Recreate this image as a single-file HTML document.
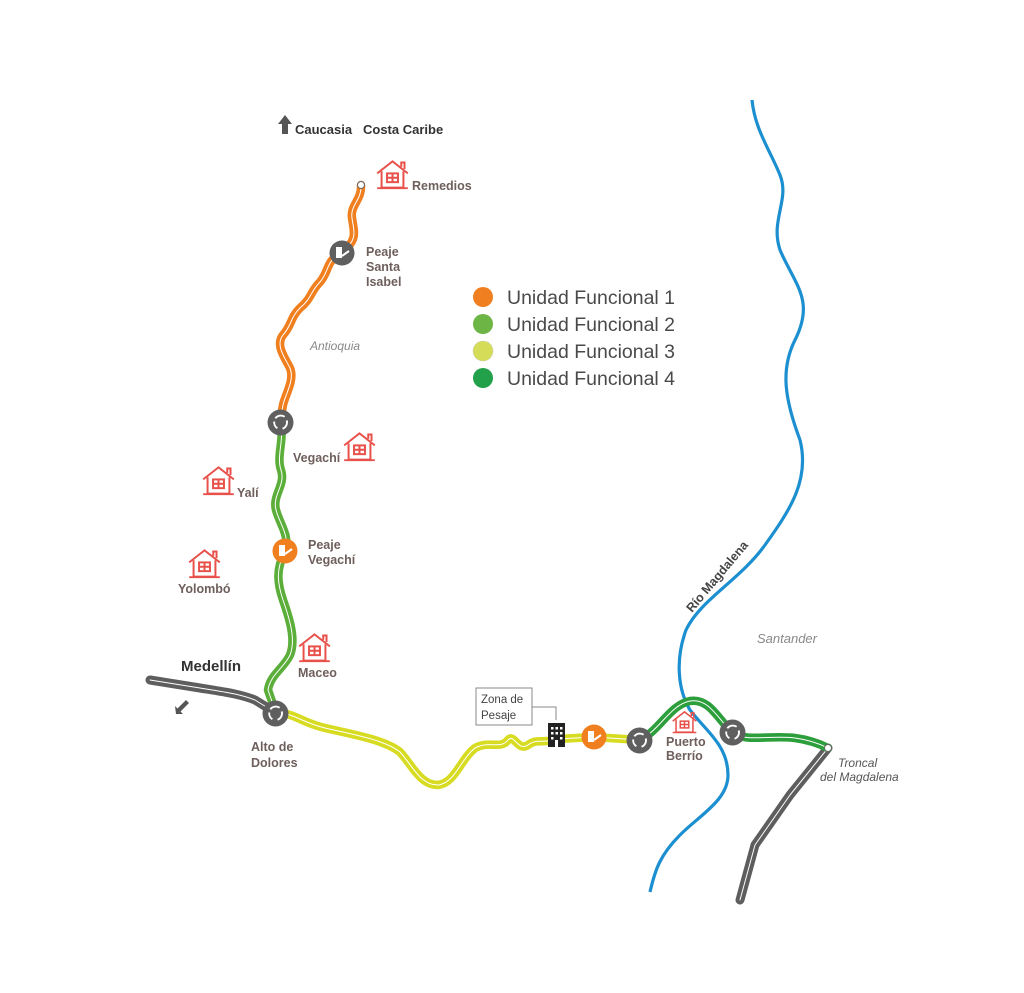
<!DOCTYPE html>
<html><head><meta charset="utf-8"><style>
html,body{margin:0;padding:0;background:#fff;width:1024px;height:993px;overflow:hidden}
svg{display:block}
text{font-family:"Liberation Sans",sans-serif}
.lb{fill:#6e5f5c;font-weight:bold;font-size:12.5px}
.it{fill:#888;font-style:italic;font-size:12px}
.lg{fill:#4a4a4a;font-size:19.5px}
</style></head><body>
<svg width="1024" height="993" viewBox="0 0 1024 993" xmlns="http://www.w3.org/2000/svg">
<defs>
<symbol id="h" viewBox="0 0 32 28">
<g fill="none" stroke="#e8504a" stroke-width="1.8">
<path d="M2 13 L16 2 L30 13"/><path d="M24 7 V3 h3 V9"/>
<path d="M6 11 V26 H26 V11"/><rect x="11" y="13" width="10" height="8"/><path d="M16 13 V21 M11 17 H21"/>
<path d="M2 26.5 H30"/></g></symbol>
<symbol id="r" viewBox="0 0 26 26"><circle cx="13" cy="13" r="12.5" fill="#5f5f5f"/>
<g fill="none" stroke="#fff" stroke-width="1.8"><path d="M8 9 A6.5 6.5 0 0 1 17 7.5"/><path d="M19 11 A6.5 6.5 0 0 1 15 19"/><path d="M10 18.5 A6.5 6.5 0 0 1 7 12"/></g></symbol>
<symbol id="p" viewBox="0 0 26 26"><rect x="7" y="7" width="6" height="11" fill="#fff"/><path d="M13 16 L20 11" stroke="#fff" stroke-width="2"/></symbol>
</defs>

<path d="M752 100 C755 130 770 150 780 175 C790 200 770 220 780 250 C795 285 815 300 795 340 C780 370 785 400 800 440 C810 480 790 510 765 545 C740 580 700 600 686 630 C675 660 678 690 690 710 C705 730 728 745 728 775 C728 800 700 815 680 835 C660 855 655 870 650 892" fill="none" stroke="#1b8fd0" stroke-width="3.2"/>

<g fill="none" stroke-linecap="round" stroke-linejoin="round">
<path d="M150 680 L200 688 C225 692 240 694 255 700 L276 713" stroke="#5e5e5e" stroke-width="9"/>
<path d="M150 680 L200 688 C225 692 240 694 255 700 L276 713" stroke="#fff" stroke-width="1"/>
<path d="M828 748 L790 795 L755 845 L740 900" stroke="#5e5e5e" stroke-width="9"/>
<path d="M828 748 L790 795 L755 845 L740 900" stroke="#fff" stroke-width="1"/>

<path d="M361 185 C362 200 350 205 352 218 C354 232 358 240 342 252 C325 262 330 270 320 282 C310 292 312 298 300 308 C290 318 292 325 283 335 C275 345 285 358 290 368 C295 380 285 395 283 405 L280 422" stroke="#f07f1f" stroke-width="8.5"/>
<path d="M361 185 C362 200 350 205 352 218 C354 232 358 240 342 252 C325 262 330 270 320 282 C310 292 312 298 300 308 C290 318 292 325 283 335 C275 345 285 358 290 368 C295 380 285 395 283 405 L280 422" stroke="#fff" stroke-width="1"/>
<path d="M280 422 C285 440 276 455 281 470 C286 485 272 495 276 510 C280 525 290 535 285 552 C275 570 278 585 283 600 C290 620 296 640 290 655 C284 668 270 675 268 690 L276 713" stroke="#5cae3a" stroke-width="8.5"/>
<path d="M280 422 C285 440 276 455 281 470 C286 485 272 495 276 510 C280 525 290 535 285 552 C275 570 278 585 283 600 C290 620 296 640 290 655 C284 668 270 675 268 690 L276 713" stroke="#fff" stroke-width="1"/>
<path d="M276 713 C295 713 300 722 325 728 C355 735 385 740 400 752 C412 765 420 785 438 785 C455 783 460 760 475 748 C490 740 500 750 508 740 C514 733 518 752 528 745 C538 738 540 744 558 739 L593 737 L640 740" stroke="#d7dc22" stroke-width="8.5"/>
<path d="M276 713 C295 713 300 722 325 728 C355 735 385 740 400 752 C412 765 420 785 438 785 C455 783 460 760 475 748 C490 740 500 750 508 740 C514 733 518 752 528 745 C538 738 540 744 558 739 L593 737 L640 740" stroke="#fff" stroke-width="1"/>
<path d="M640 740 C660 730 670 705 690 701 C710 698 718 720 733 733 C745 742 770 735 795 738 C810 740 820 744 828 748" stroke="#2d9e3c" stroke-width="8.5"/>
<path d="M640 740 C660 730 670 705 690 701 C710 698 718 720 733 733 C745 742 770 735 795 738 C810 740 820 744 828 748" stroke="#fff" stroke-width="1"/>
</g>
<circle cx="361" cy="185" r="3.5" fill="#fff" stroke="#666" stroke-width="1"/>
<circle cx="828" cy="748" r="3.5" fill="#fff" stroke="#666" stroke-width="1"/>

<use href="#r" x="267" y="409" width="27" height="27"/>
<use href="#r" x="262" y="700" width="27" height="27"/>
<use href="#r" x="626" y="727" width="27" height="27"/>
<use href="#r" x="719" y="719" width="27" height="27"/>
<circle cx="342" cy="253" r="12.5" fill="#5f5f5f"/><use href="#p" x="329" y="240" width="26" height="26"/>
<circle cx="285" cy="551" r="12.5" fill="#f07f1f"/><use href="#p" x="272" y="538" width="26" height="26"/>
<circle cx="594" cy="737" r="12.5" fill="#f07f1f"/><use href="#p" x="581" y="724" width="26" height="26"/>
<rect x="548" y="723" width="17" height="24" fill="#222"/>
<g fill="#fff"><rect x="551" y="727" width="2.5" height="2.5"/><rect x="555.5" y="727" width="2.5" height="2.5"/><rect x="560" y="727" width="2.5" height="2.5"/><rect x="551" y="732" width="2.5" height="2.5"/><rect x="555.5" y="732" width="2.5" height="2.5"/><rect x="560" y="732" width="2.5" height="2.5"/><rect x="551" y="737" width="2.5" height="2.5"/><rect x="560" y="737" width="2.5" height="2.5"/><rect x="555" y="740" width="3" height="7"/></g>
<path d="M532 707 H556 V720" fill="none" stroke="#888" stroke-width="1"/>
<rect x="476" y="688" width="56" height="37" fill="#fff" stroke="#888" stroke-width="1"/>
<text x="481" y="703" style="font-size:11.5px;fill:#444">Zona de</text>
<text x="481" y="719" style="font-size:11.5px;fill:#444">Pesaje</text>

<use href="#h" x="375" y="159" width="35" height="31"/>
<use href="#h" x="342" y="431" width="35" height="31"/>
<use href="#h" x="201" y="465" width="35" height="31"/>
<use href="#h" x="187" y="548" width="35" height="31"/>
<use href="#h" x="297" y="632" width="35" height="31"/>
<use href="#h" x="671" y="710" width="27" height="24"/>

<path d="M282 134 V124 H278 L285 115 L292 124 H288 V134 Z" fill="#555"/>
<text x="295" y="134" style="font-weight:bold;font-size:13px;fill:#333">Caucasia</text>
<text x="363" y="134" style="font-weight:bold;font-size:13px;fill:#333">Costa Caribe</text>
<text x="412" y="190" class="lb">Remedios</text>
<text x="366" y="256" class="lb">Peaje</text><text x="366" y="271" class="lb">Santa</text><text x="366" y="286" class="lb">Isabel</text>
<text x="310" y="350" class="it">Antioquia</text>
<text x="293" y="462" class="lb">Vegachí</text>
<text x="237" y="497" class="lb">Yalí</text>
<text x="308" y="549" class="lb">Peaje</text><text x="308" y="564" class="lb">Vegachí</text>
<text x="178" y="593" class="lb">Yolombó</text>
<text x="298" y="677" class="lb">Maceo</text>
<text x="181" y="671" style="font-weight:bold;font-size:15px;fill:#333">Medellín</text>
<path d="M176 714 L183 714 L180.5 711.5 L189 703 L186 700 L177.5 708.5 L175 706 Z" fill="#555"/>
<text x="251" y="751" class="lb">Alto de</text><text x="251" y="767" class="lb">Dolores</text>
<text x="666" y="746" class="lb">Puerto</text><text x="666" y="760" class="lb">Berrío</text>
<text x="838" y="767" class="it" style="fill:#555">Troncal</text>
<text x="820" y="781" class="it" style="fill:#555">del Magdalena</text>
<text x="757" y="643" class="it" style="font-size:13px">Santander</text>
<text transform="translate(692,613) rotate(-50)" class="lb" style="fill:#444">Río Magdalena</text>

<circle cx="483" cy="297" r="10" fill="#f07f1f"/>
<circle cx="483" cy="324" r="10" fill="#6db544"/>
<circle cx="483" cy="351" r="10" fill="#d4dc58" stroke="#bbb" stroke-dasharray="1 1" stroke-width="0.6"/>
<circle cx="483" cy="378" r="10" fill="#22a14a"/>
<text x="507" y="304" class="lg">Unidad Funcional  1</text>
<text x="507" y="331" class="lg">Unidad Funcional 2</text>
<text x="507" y="358" class="lg">Unidad Funcional 3</text>
<text x="507" y="385" class="lg">Unidad Funcional 4</text>
</svg>
</body></html>
